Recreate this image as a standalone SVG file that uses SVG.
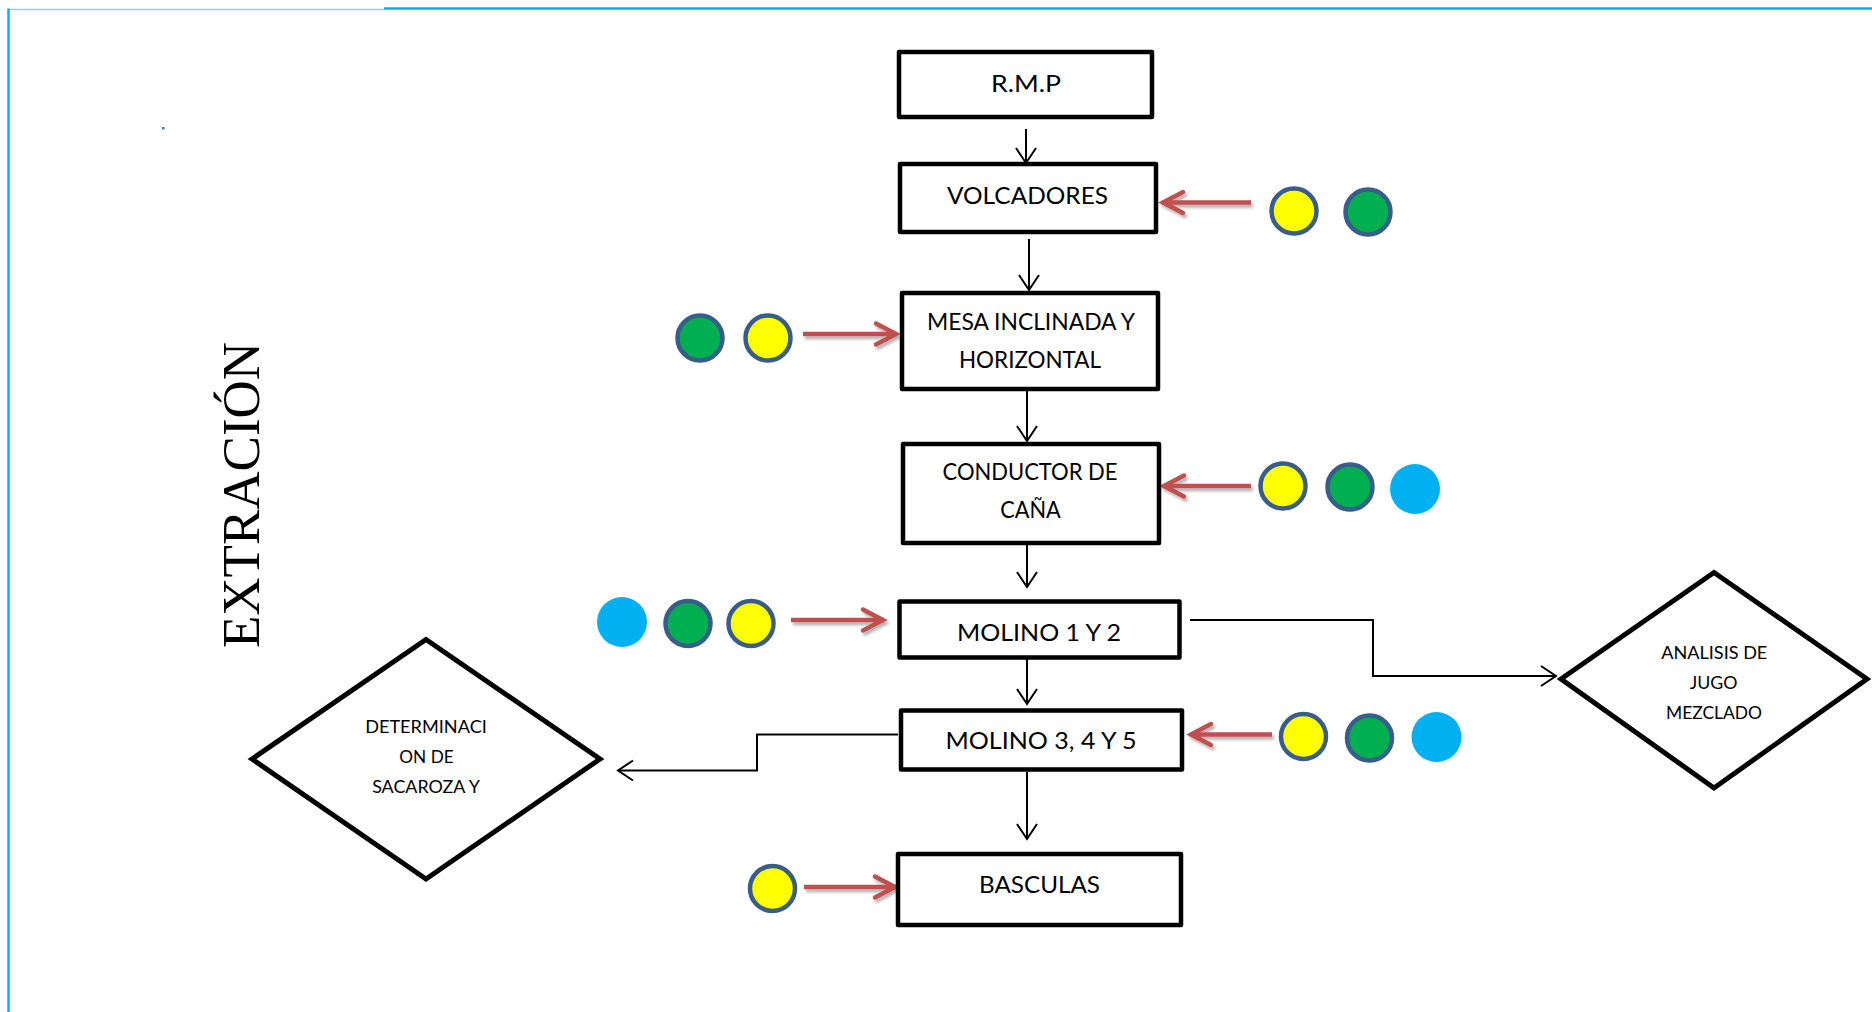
<svg xmlns="http://www.w3.org/2000/svg" width="1872" height="1012" viewBox="0 0 1872 1012">
<style>
.box{fill:#fff;stroke:#000;stroke-width:4.5;stroke-linejoin:round}
.dia{fill:#fff;stroke:#000;stroke-width:5;stroke-linejoin:miter}
.t{font-family:Lato,"Open Sans","Liberation Sans",sans-serif;font-size:24px;fill:#000;text-anchor:middle}
.ts{font-family:Lato,"Open Sans","Liberation Sans",sans-serif;font-size:16.5px;fill:#000;text-anchor:middle}
.con{fill:none;stroke:#000;stroke-width:2}
.red{fill:none;stroke:#C0504D;stroke-width:4.5;stroke-linecap:butt}
.y{fill:#FFFF00;stroke:#385D8A;stroke-width:4.5}
.g{fill:#00B050;stroke:#385D8A;stroke-width:4.5}
.b{fill:#00B0F0}
</style>
<defs>
<marker id="ah" markerUnits="userSpaceOnUse" markerWidth="24" markerHeight="24" viewBox="-18 -12 20 24" refX="0" refY="0" orient="auto">
<path d="M-15,-10 L0,0 L-15,10" fill="none" stroke="#000" stroke-width="2"/>
</marker>
<marker id="rh" markerUnits="userSpaceOnUse" markerWidth="30" markerHeight="30" viewBox="-25 -15 28 30" refX="0" refY="0" orient="auto">
<path d="M-21,-10.5 L-1,0 L-21,10.5" fill="none" stroke="#C0504D" stroke-width="4.5" stroke-linecap="round" stroke-linejoin="miter"/>
</marker>
<filter id="sh" filterUnits="userSpaceOnUse" x="0" y="0" width="1872" height="1012">
<feDropShadow dx="2" dy="3" stdDeviation="1.5" flood-color="#000" flood-opacity="0.3"/>
</filter>
</defs>
<rect width="1872" height="1012" fill="#fff"/>
<g id="border">
<line x1="8" y1="9.5" x2="384" y2="9.5" stroke="#7FD3F3" stroke-width="1.5"/>
<line x1="384" y1="8.5" x2="1872" y2="8.5" stroke="#00B0F0" stroke-width="2.5"/>
<line x1="8.5" y1="8.5" x2="8.5" y2="1012" stroke="#00B0F0" stroke-width="2.5"/>
<rect x="162" y="127" width="2.5" height="2.5" fill="#4472C4"/>
</g>
<text id="title" transform="translate(259,495) rotate(-90)" font-family="'Liberation Serif','Times New Roman',serif" font-size="53" text-anchor="middle" fill="#000">EXTRACIÓN</text>
<g id="connectors">
<line class="con" x1="1026" y1="129" x2="1026" y2="163" marker-end="url(#ah)"/>
<line class="con" x1="1029" y1="239" x2="1029" y2="290" marker-end="url(#ah)"/>
<line class="con" x1="1027" y1="390" x2="1027" y2="441" marker-end="url(#ah)"/>
<line class="con" x1="1027" y1="540" x2="1027" y2="587" marker-end="url(#ah)"/>
<line class="con" x1="1027" y1="655" x2="1027" y2="704" marker-end="url(#ah)"/>
<line class="con" x1="1027" y1="772" x2="1027" y2="839" marker-end="url(#ah)"/>
<path class="con" d="M1190,620 H1373 V676 H1556" marker-end="url(#ah)"/>
<path class="con" d="M898,734.5 H757 V770.5 H618" marker-end="url(#ah)"/>
<g id="red-arrows" filter="url(#sh)">
<line class="red" x1="1251" y1="202.5" x2="1162" y2="202.5" marker-end="url(#rh)"/>
<line class="red" x1="803" y1="334" x2="897" y2="334" marker-end="url(#rh)"/>
<line class="red" x1="1251" y1="486" x2="1163" y2="486" marker-end="url(#rh)"/>
<line class="red" x1="791" y1="620" x2="884" y2="620" marker-end="url(#rh)"/>
<line class="red" x1="1272" y1="734.5" x2="1190" y2="734.5" marker-end="url(#rh)"/>
<line class="red" x1="804" y1="887" x2="896" y2="887" marker-end="url(#rh)"/>
</g>
</g>
<g id="rmp"><rect class="box" x="899" y="52" width="253" height="65"/><text class="t" x="1026" y="92" textLength="70" lengthAdjust="spacingAndGlyphs">R.M.P</text></g>
<g id="volcadores"><rect class="box" x="900" y="164" width="256" height="68"/><text class="t" x="1027.5" y="204" textLength="161" lengthAdjust="spacingAndGlyphs">VOLCADORES</text></g>
<g id="mesa"><rect class="box" x="902" y="293" width="256" height="96"/><text class="t" x="1031" y="330" textLength="208" lengthAdjust="spacingAndGlyphs">MESA INCLINADA Y</text><text class="t" x="1030" y="368" textLength="142" lengthAdjust="spacingAndGlyphs">HORIZONTAL</text></g>
<g id="conductor"><rect class="box" x="903" y="444" width="256" height="99"/><text class="t" x="1030" y="480" textLength="175" lengthAdjust="spacingAndGlyphs">CONDUCTOR DE</text><text class="t" x="1030.5" y="518" textLength="60.5" lengthAdjust="spacingAndGlyphs">CAÑA</text></g>
<g id="molino12"><rect class="box" x="899.5" y="601.5" width="280" height="56"/><text class="t" x="1039" y="641" textLength="164" lengthAdjust="spacingAndGlyphs">MOLINO 1 Y 2</text></g>
<g id="molino345"><rect class="box" x="901" y="710.5" width="281" height="59"/><text class="t" x="1041" y="749" textLength="191" lengthAdjust="spacingAndGlyphs">MOLINO 3, 4 Y 5</text></g>
<g id="basculas"><rect class="box" x="898" y="854" width="283" height="71"/><text class="t" x="1039.5" y="893" textLength="121" lengthAdjust="spacingAndGlyphs">BASCULAS</text></g>
<g id="determinacion"><polygon class="dia" points="252,759 426,639.5 600,759 426,879"/><text class="ts" x="426" y="732.7" textLength="121.7" lengthAdjust="spacingAndGlyphs">DETERMINACI</text><text class="ts" x="426.5" y="762.7" textLength="54.3" lengthAdjust="spacingAndGlyphs">ON DE</text><text class="ts" x="426" y="792.7" textLength="107.7" lengthAdjust="spacingAndGlyphs">SACAROZA Y</text></g>
<g id="analisis"><polygon class="dia" points="1561,679 1714,572.5 1867,679 1714,788"/><text class="ts" x="1714.3" y="659" textLength="106" lengthAdjust="spacingAndGlyphs">ANALISIS DE</text><text class="ts" x="1713.5" y="689.3" textLength="47.7" lengthAdjust="spacingAndGlyphs">JUGO</text><text class="ts" x="1714" y="719.3" textLength="96" lengthAdjust="spacingAndGlyphs">MEZCLADO</text></g>
<g id="markers-volcadores"><circle class="y" cx="1294" cy="211" r="22.5"/><circle class="g" cx="1368" cy="212" r="22.5"/></g>
<g id="markers-mesa"><circle class="g" cx="700" cy="338" r="22.5"/><circle class="y" cx="768" cy="338" r="22.5"/></g>
<g id="markers-conductor"><circle class="y" cx="1283" cy="486" r="22.5"/><circle class="g" cx="1350" cy="487" r="22.5"/><circle class="b" cx="1415" cy="489" r="25"/></g>
<g id="markers-molino12"><circle class="b" cx="622" cy="622" r="25"/><circle class="g" cx="688" cy="623.5" r="22.5"/><circle class="y" cx="751" cy="623.5" r="22.5"/></g>
<g id="markers-molino345"><circle class="y" cx="1303.5" cy="736.5" r="22.5"/><circle class="g" cx="1369.5" cy="738" r="22.5"/><circle class="b" cx="1436.5" cy="737" r="25"/></g>
<g id="markers-basculas"><circle class="y" cx="772.5" cy="888.5" r="22.5"/></g>
</svg>
